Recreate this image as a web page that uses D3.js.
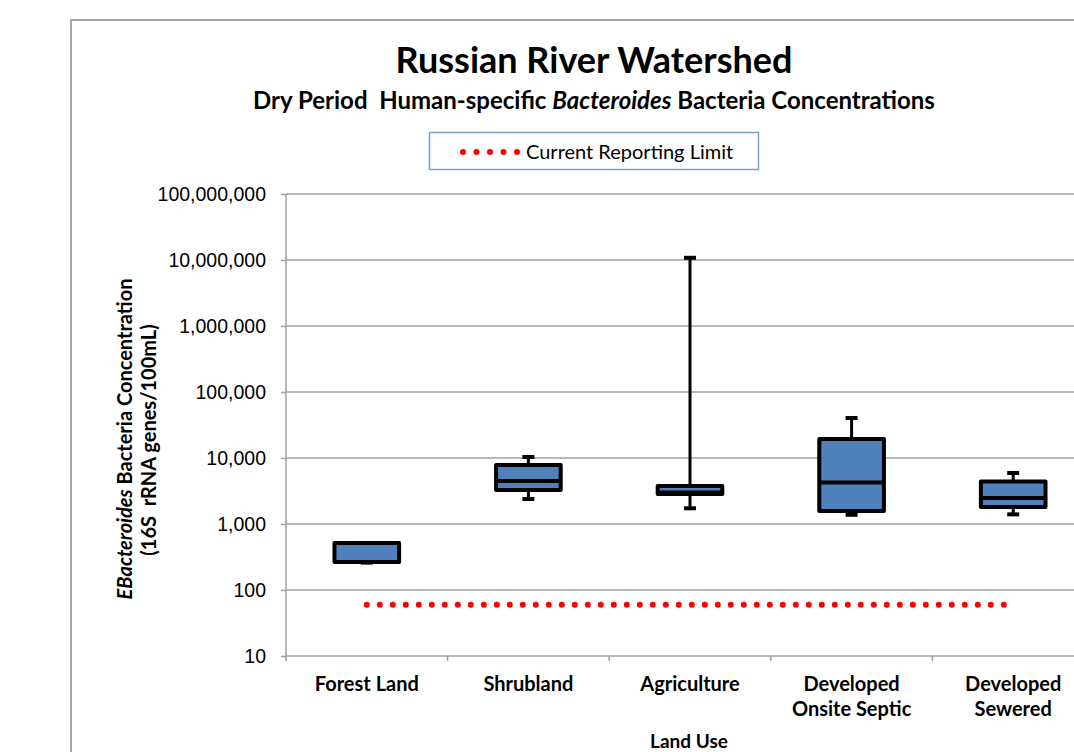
<!DOCTYPE html>
<html>
<head>
<meta charset="utf-8">
<script src="https://cdn.jsdelivr.net/npm/d3@7"></script>
<style>
  body { margin: 0; background: #fff; }
  svg { display: block; }
  .cal { font-family: Lato, "Open Sans", sans-serif; }
  .ari { font-family: "Liberation Sans", Arial, sans-serif; }
</style>
</head>
<body>
<div id="chart"></div>
<script>
// land use categories
var categories = ["Forest Land", "Shrubland", "Agriculture", "Developed\nOnsite Septic", "Developed\nSewered"];
// box plot stats (16S rRNA genes / 100mL)
var mins    = [260, 2390, 1730, 1380, 1400];
var q1s     = [265, 3270, 2850, 1575, 1810];
var medians = [265, 4490, 3000, 4240, 2480];
var q3s     = [515, 7830, 3770, 19400, 4400];
var maxs    = [515, 10350, 10800000, 40400, 5930];
var reportingLimit = 60;
var yTicks = [10, 100, 1000, 10000, 100000, 1000000, 10000000, 100000000];

var W = 1074, H = 752;
var pLeft = 286, pRight = 1094, pTop = 194, pBottom = 656;

var svg = d3.select("#chart").append("svg")
  .attr("width", W).attr("height", H);

// chart frame
svg.append("rect")
  .attr("x", 71).attr("y", 20)
  .attr("width", 1200).attr("height", 800)
  .attr("fill", "#fff").attr("stroke", "#a6a6a6").attr("stroke-width", 2);

var x = d3.scaleBand().domain(categories).range([pLeft, pRight]).padding(0);
var y = d3.scaleLog().domain([10, 1e8]).range([pBottom, pTop]);

// gridlines
svg.append("g").selectAll("line")
  .data(yTicks.slice(1))
  .join("line")
  .attr("x1", pLeft).attr("x2", pRight)
  .attr("y1", d => y(d)).attr("y2", d => y(d))
  .attr("stroke", "#a0a0a0").attr("stroke-width", 1.5);

// y axis
var yAxis = svg.append("g")
  .attr("transform", "translate(" + pLeft + ",0)")
  .call(d3.axisLeft(y).tickValues(yTicks).tickSize(5).tickPadding(15).tickFormat(d3.format(",")));
yAxis.selectAll("line, path").attr("stroke", "#a0a0a0").attr("stroke-width", 1.5);
yAxis.select(".domain").attr("d", "M0," + pTop + "V" + pBottom);
yAxis.selectAll("text").attr("class", "ari").attr("font-size", 19.5).attr("fill", "#000");

// x axis
var xAxis = svg.append("g")
  .attr("transform", "translate(0," + pBottom + ")")
  .call(d3.axisBottom(x).tickSize(0).tickFormat(""));
xAxis.selectAll("path").attr("stroke", "#a0a0a0").attr("stroke-width", 1.5);
xAxis.select(".domain").attr("d", "M" + pLeft + ",0H" + pRight);
var bounds = categories.map((c, i) => pLeft + i * x.bandwidth());
xAxis.selectAll(".bnd").data(bounds).join("line")
  .attr("x1", d => d).attr("x2", d => d).attr("y1", 0).attr("y2", 5)
  .attr("stroke", "#a0a0a0").attr("stroke-width", 1.5);

var xl = svg.append("g").selectAll("text").data(categories).join("text")
  .attr("class", "cal")
  .attr("text-anchor", "middle")
  .attr("font-weight", "bold").attr("font-size", 20)
  .attr("x", d => x(d) + x.bandwidth() / 2)
  .attr("y", 691);
xl.selectAll("tspan").data(d => d.split("\n")).join("tspan")
  .attr("x", function() { return d3.select(this.parentNode).attr("x"); })
  .attr("dy", (d, i) => i ? 25 : 0)
  .text(d => d);

svg.append("text").attr("class", "cal")
  .attr("x", 689).attr("y", 748)
  .attr("text-anchor", "middle").attr("font-weight", "bold").attr("font-size", 19)
  .text("Land Use");

// y axis title
var yt = svg.append("text").attr("class", "cal")
  .attr("transform", "translate(132,439) rotate(-90)")
  .attr("text-anchor", "middle").attr("font-weight", "bold").attr("font-size", 20);
yt.append("tspan").attr("font-style", "italic").text("EBacteroides");
yt.append("tspan").text(" Bacteria Concentration");
svg.append("text").attr("class", "cal")
  .attr("transform", "translate(156,440) rotate(-90)")
  .attr("text-anchor", "middle").attr("font-weight", "bold").attr("font-size", 20)
  .attr("xml:space", "preserve")
  .text("(16S  rRNA genes/100mL)");

// reporting limit dotted line
var cx = d => x(d) + x.bandwidth() / 2;
svg.append("line")
  .attr("x1", cx(categories[0])).attr("x2", cx(categories[categories.length - 1]))
  .attr("y1", y(reportingLimit)).attr("y2", y(reportingLimit))
  .attr("stroke", "#ff0000").attr("stroke-width", 6)
  .attr("stroke-linecap", "round").attr("stroke-dasharray", "0 13");

// boxes
var boxW = x.bandwidth() * 0.4, capW = 12;
var rows = categories.map((c, i) => ({c: c, min: mins[i], q1: q1s[i], med: medians[i], q3: q3s[i], max: maxs[i]}));
var g = svg.append("g").selectAll("g").data(rows).join("g");

g.append("line")
  .attr("x1", d => cx(d.c)).attr("x2", d => cx(d.c))
  .attr("y1", d => y(d.max)).attr("y2", d => y(d.min))
  .attr("stroke", "#000").attr("stroke-width", 3);
g.selectAll(".cap").data(d => [[d.c, d.max], [d.c, d.min]]).join("line")
  .attr("x1", d => cx(d[0]) - capW / 2).attr("x2", d => cx(d[0]) + capW / 2)
  .attr("y1", d => y(d[1])).attr("y2", d => y(d[1]))
  .attr("stroke", "#000").attr("stroke-width", 4);
g.append("rect")
  .attr("x", d => cx(d.c) - boxW / 2).attr("width", boxW)
  .attr("y", d => y(d.q3)).attr("height", d => y(d.q1) - y(d.q3))
  .attr("fill", "#4f81bd").attr("stroke", "#000").attr("stroke-width", 4)
  .attr("stroke-linejoin", "round");
g.append("line")
  .attr("x1", d => cx(d.c) - boxW / 2).attr("x2", d => cx(d.c) + boxW / 2)
  .attr("y1", d => y(d.med)).attr("y2", d => y(d.med))
  .attr("stroke", "#000").attr("stroke-width", 4);

// titles
svg.append("text").attr("class", "cal")
  .attr("x", 594).attr("y", 73).attr("text-anchor", "middle")
  .attr("font-weight", "bold").attr("font-size", 36)
  .text("Russian River Watershed");
var st = svg.append("text").attr("class", "cal")
  .attr("x", 594).attr("y", 109).attr("text-anchor", "middle")
  .attr("font-weight", "bold").attr("font-size", 24)
  .attr("xml:space", "preserve");
st.append("tspan").text("Dry Period  Human-specific ");
st.append("tspan").attr("font-style", "italic").text("Bacteroides");
st.append("tspan").text(" Bacteria Concentrations");

// legend
svg.append("rect")
  .attr("x", 429.5).attr("y", 132.5).attr("width", 329).attr("height", 37)
  .attr("fill", "#fff").attr("stroke", "#7b9fd2").attr("stroke-width", 1.5);
svg.append("line")
  .attr("x1", 463).attr("x2", 517.5).attr("y1", 152).attr("y2", 152)
  .attr("stroke", "#ff0000").attr("stroke-width", 6)
  .attr("stroke-linecap", "round").attr("stroke-dasharray", "0 13.5");
svg.append("text").attr("class", "cal")
  .attr("x", 526).attr("y", 159)
  .attr("font-size", 20)
  .text("Current Reporting Limit");
</script>
</body>
</html>
